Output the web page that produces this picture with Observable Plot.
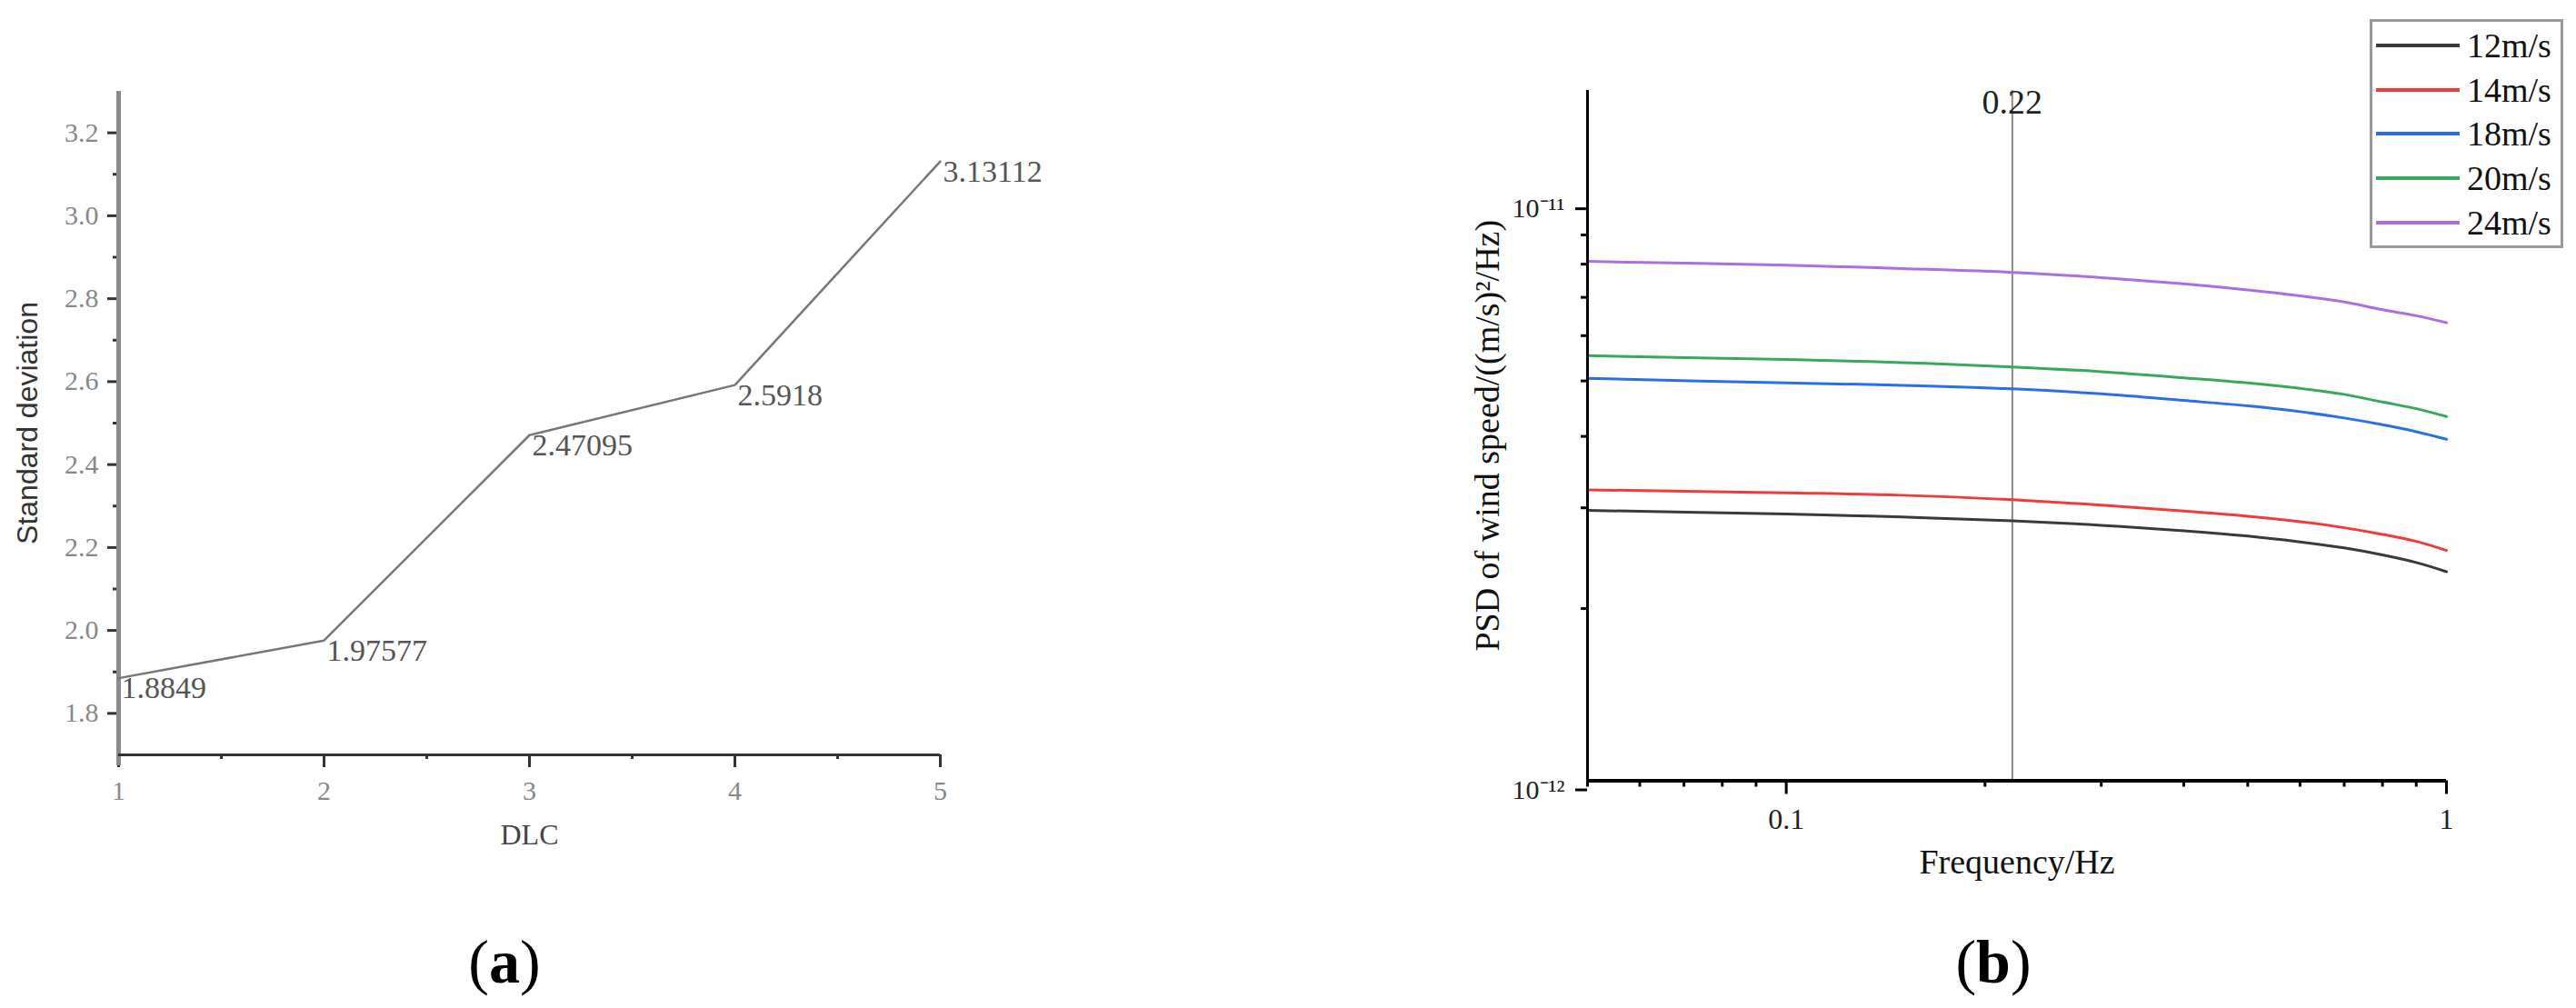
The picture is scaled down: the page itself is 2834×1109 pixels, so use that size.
<!DOCTYPE html>
<html>
<head>
<meta charset="utf-8">
<script src="https://cdn.jsdelivr.net/npm/d3@7"></script>
<script src="https://cdn.jsdelivr.net/npm/@observablehq/plot@0.6"></script>
<style>
  html, body { margin: 0; padding: 0; background: #fff; }
  #page { position: relative; width: 2834px; height: 1109px; overflow: hidden; background: #fff; }
  #chartA { position: absolute; left: 0; top: 0; }
  #chartB { position: absolute; left: 1560px; top: 0; }
  .cap { position: absolute; top: 1018px; font-family: "Liberation Serif", "Times New Roman", serif; font-size: 68px; line-height: 80px; color: #000; transform: translateX(-50%); }
  #legend { position: absolute; left: 2607px; top: 21px; width: 207px; height: 246px; border: 3px solid #9a9a9a; background: #fff; z-index: 5; }
  .lg { position: absolute; left: 4px; height: 48px; display: flex; align-items: center; font-family: "Liberation Serif", "Times New Roman", serif; font-size: 38px; color: #111; }
  .lg svg { margin-right: 8px; }
</style>
</head>
<body>
<div id="page">
  <div id="chartA"></div>
  <div id="chartB"></div>
  <div id="legend"></div>
  <div class="cap" style="left:555px">(<b>a</b>)</div>
  <div class="cap" style="left:2193px">(<b>b</b>)</div>
</div>
<script>
// ---------- Chart (a) data ----------
const dlc = [1, 2, 3, 4, 5];
const stdDev = [1.8849, 1.97577, 2.47095, 2.5918, 3.13112];
const stdLabels = ["1.8849", "1.97577", "2.47095", "2.5918", "3.13112"];
const aXTicks = [1, 2, 3, 4, 5];
const aXMinor = [1.5, 2.5, 3.5, 4.5];
const aYTicks = [1.8, 2.0, 2.2, 2.4, 2.6, 2.8, 3.0, 3.2];
const aYMinor = [1.9, 2.1, 2.3, 2.5, 2.7, 2.9, 3.1];

// ---------- Chart (b) data ----------
const freq = [0.05, 0.1, 0.15, 0.22, 0.3, 0.4, 0.5, 0.6, 0.7, 0.8, 0.9, 1.0];
const speeds = ["12m/s", "14m/s", "18m/s", "20m/s", "24m/s"];
const colors = ["#3a3a3a", "#f23a3c", "#2b6fe6", "#38a85c", "#a970e0"];
const psd12 = [2.969e-12, 2.926e-12, 2.891e-12, 2.847e-12, 2.797e-12, 2.736e-12, 2.677e-12, 2.615e-12, 2.553e-12, 2.482e-12, 2.407e-12, 2.320e-12];
const psd14 = [3.226e-12, 3.186e-12, 3.156e-12, 3.099e-12, 3.034e-12, 2.961e-12, 2.901e-12, 2.838e-12, 2.769e-12, 2.696e-12, 2.621e-12, 2.527e-12];
const psd18 = [5.051e-12, 4.960e-12, 4.913e-12, 4.843e-12, 4.747e-12, 4.622e-12, 4.522e-12, 4.419e-12, 4.307e-12, 4.192e-12, 4.076e-12, 3.954e-12];
const psd20 = [5.535e-12, 5.449e-12, 5.384e-12, 5.291e-12, 5.190e-12, 5.064e-12, 4.960e-12, 4.852e-12, 4.737e-12, 4.593e-12, 4.472e-12, 4.332e-12];
const psd24 = [8.09e-12, 7.97e-12, 7.86e-12, 7.74e-12, 7.58e-12, 7.39e-12, 7.21e-12, 7.04e-12, 6.87e-12, 6.66e-12, 6.50e-12, 6.32e-12];
const markerFreq = [0.22];
const markerLabel = ["0.22"];
const bXTicks = [0.1, 1];
const bXTickLabels = ["0.1", "1"];
const bXMinor = [0.05, 0.06, 0.07, 0.08, 0.09, 0.2, 0.3, 0.4, 0.5, 0.6, 0.7, 0.8, 0.9];
const bYTicks = [1e-12, 1e-11];
const bYTickLabels = ["10⁻¹²", "10⁻¹¹"];
const bYMinor = [2e-12, 3e-12, 4e-12, 5e-12, 6e-12, 7e-12, 8e-12, 9e-12];

const serif = '"Liberation Serif", "Times New Roman", serif';
const sans = '"Liberation Sans", Arial, sans-serif';

// ---------- Chart (a) ----------
const dataA = dlc.map((d, i) => ({dlc: d, sd: stdDev[i], label: stdLabels[i]}));
const plotA = Plot.plot({
  width: 1200, height: 960,
  marginLeft: 130, marginRight: 166, marginTop: 100, marginBottom: 130,
  style: {fontFamily: serif, fontSize: "30px", background: "transparent", overflow: "visible"},
  x: {domain: [1, 5]},
  y: {domain: [1.7, 3.3]},
  marks: [
    Plot.axisY({ticks: aYTicks, tickSize: 12, tickPadding: 10, tickFormat: d3.format(".1f"), label: null, stroke: "#333", fill: "#888", strokeWidth: 3, fontSize: 30}),
    Plot.axisY({ticks: aYMinor, tickSize: 6, tickFormat: () => "", label: null, stroke: "#333", strokeWidth: 3}),
    Plot.axisX({ticks: aXTicks, tickSize: 14, tickPadding: 14, tickFormat: d3.format("d"), label: null, stroke: "#333", fill: "#888", strokeWidth: 3, fontSize: 30}),
    Plot.axisX({ticks: aXMinor, tickSize: 5, tickFormat: () => "", label: null, stroke: "#333", strokeWidth: 3}),
    Plot.ruleX([1], {stroke: "#8a8a8a", strokeWidth: 5, insetBottom: -12}),
    Plot.ruleY([1.7], {stroke: "#333", strokeWidth: 3}),
    Plot.line(dataA, {x: "dlc", y: "sd", stroke: "#777", strokeWidth: 2.5}),
    Plot.text(dataA, {x: "dlc", y: "sd", text: "label", textAnchor: "start", lineAnchor: "top", dx: 3, dy: -2, fill: "#555", fontSize: 34, fontFamily: serif}),
    Plot.text(["Standard deviation"], {frameAnchor: "left", rotate: -90, dx: -100, textAnchor: "middle", lineAnchor: "middle", fill: "#333", fontSize: 32, fontFamily: sans}),
    Plot.text(["DLC"], {frameAnchor: "bottom", dy: 88, textAnchor: "middle", lineAnchor: "middle", fill: "#444", fontSize: 32, fontFamily: serif})
  ]
});
document.getElementById("chartA").appendChild(plotA);

// ---------- Chart (b) ----------
const series = [psd12, psd14, psd18, psd20, psd24];
const dataB = series.flatMap((arr, s) => arr.map((v, i) => ({f: freq[i], psd: v, speed: speeds[s]})));
const plotB = Plot.plot({
  width: 1274, height: 1000,
  marginLeft: 186, marginRight: 143, marginTop: 99, marginBottom: 141.5,
  style: {fontFamily: serif, fontSize: "32px", background: "transparent", overflow: "visible"},
  x: {type: "log", domain: [0.05, 1]},
  y: {type: "log", domain: [1e-12, 1.61e-11]},
  color: {domain: speeds, range: colors},
  marks: [
    Plot.axisY({ticks: [bYTicks[1]], tickSize: 13, tickPadding: 12, tickFormat: () => bYTickLabels[1], label: null, stroke: "#000", fill: "#222", strokeWidth: 3, fontSize: 30}),
    Plot.axisY({ticks: [bYTicks[0]], tickSize: 13, tickPadding: 12, tickFormat: () => bYTickLabels[0], label: null, stroke: "#000", fill: "#222", strokeWidth: 3, fontSize: 30, dy: 10}),
    Plot.axisY({ticks: bYMinor, tickSize: 7, tickFormat: () => "", label: null, stroke: "#000", strokeWidth: 3}),
    Plot.axisX({ticks: bXTicks, tickSize: 15, tickPadding: 15, tickFormat: (d) => bXTickLabels[bXTicks.indexOf(d)], label: null, stroke: "#000", fill: "#222", strokeWidth: 3, fontSize: 32}),
    Plot.axisX({ticks: bXMinor, tickSize: 7, tickFormat: () => "", label: null, stroke: "#000", strokeWidth: 3}),
    Plot.ruleX(markerFreq, {stroke: "#8a8a8a", strokeWidth: 2}),
    Plot.text(markerFreq, {x: d => d, text: (d, i) => markerLabel[i], frameAnchor: "top", dy: 13, textAnchor: "middle", lineAnchor: "middle", fill: "#222", fontSize: 38, fontFamily: serif}),
    Plot.line(dataB, {x: "f", y: "psd", stroke: "speed", z: "speed", strokeWidth: 3, curve: "catmull-rom"}),
    Plot.ruleX([0.05], {stroke: "#000", strokeWidth: 3}),
    Plot.ruleY([1e-12], {stroke: "#000", strokeWidth: 4}),
    Plot.text(["PSD of wind speed/((m/s)²/Hz)"], {frameAnchor: "left", rotate: -90, dx: -110, textAnchor: "middle", lineAnchor: "middle", fill: "#111", fontSize: 38, fontFamily: serif}),
    Plot.text(["Frequency/Hz"], {frameAnchor: "bottom", dy: 90, textAnchor: "middle", lineAnchor: "middle", fill: "#111", fontSize: 38, fontFamily: serif})
  ]
});
document.getElementById("chartB").appendChild(plotB);

// ---------- Legend ----------
const legend = document.getElementById("legend");
speeds.forEach((s, i) => {
  const row = document.createElement("div");
  row.className = "lg";
  row.style.top = (2 + i * 48.7) + "px";
  row.innerHTML = `<svg width="92" height="10"><line x1="0" y1="5" x2="92" y2="5" stroke="${colors[i]}" stroke-width="4"/></svg><span>${s}</span>`;
  legend.appendChild(row);
});
</script>
</body>
</html>
